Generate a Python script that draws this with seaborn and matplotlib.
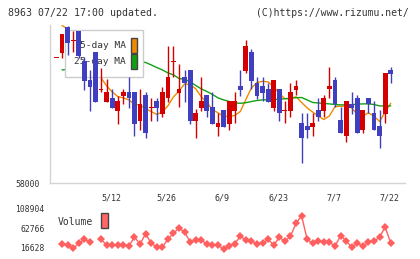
import numpy as np
import pandas as pd
import matplotlib
matplotlib.use('Agg')
import matplotlib.pyplot as plt
import seaborn as sns
from matplotlib.patches import Rectangle
from matplotlib.transforms import blended_transform_factory

# 8963 日足 (2025/04/23 - 2025/07/22)
code = '8963'
updated = '07/22 17:00'
holidays = ['2025-04-29', '2025-05-05', '2025-05-06', '2025-07-21']
dates = pd.bdate_range('2025-04-23', '2025-07-22', freq='C', holidays=holidays)

opens = [64250, 64530, 65830, 65100, 65620, 64120, 63170, 64550, 62690, 62080,
         62250, 61630, 62370, 62580, 62580, 61130, 62420, 61780, 62120, 61470,
         62250, 64050, 62530, 63300, 63670, 61130, 61780, 62420, 61800, 60830,
         61670, 60970, 61630, 62870, 63630, 64550, 63000, 62870, 62700, 61780,
         62700, 61640, 61630, 62670, 61000, 60870, 60830, 61670, 61630, 62700,
         63170, 61170, 60380, 61970, 62250, 60670, 62250, 61500, 60870, 61470,
         63670]
highs = [64250, 65470, 65870, 65620, 65620, 64330, 63670, 64550, 63780, 63220,
         62720, 62370, 62720, 63330, 62580, 62720, 62580, 62250, 62250, 62830,
         64870, 64870, 63950, 63670, 63670, 61700, 63330, 62420, 62580, 61500,
         61670, 62120, 62580, 63670, 65170, 64700, 63300, 63300, 63000, 63170,
         62700, 62120, 63000, 63170, 61500, 61500, 61500, 62250, 62420, 63830,
         63300, 61800, 62120, 62580, 62420, 61670, 62250, 62120, 61670, 63530,
         63830]
lows = [64250, 64250, 64420, 64580, 64270, 62670, 61630, 62080, 62580, 62080,
        61780, 60970, 61970, 61780, 60380, 60670, 60250, 61130, 61130, 61330,
        62080, 63300, 61830, 62080, 60970, 60250, 61630, 61330, 60970, 60380,
        60830, 60670, 61000, 62370, 63500, 62700, 62230, 62120, 62080, 61630,
        61130, 61000, 61330, 62420, 59000, 60250, 60380, 61130, 61330, 62250,
        61800, 60530, 60080, 61470, 60530, 60530, 61500, 60670, 59780, 61000,
        63000]
closes = [64250, 65470, 65000, 65150, 64380, 63120, 62830, 62080, 62730, 62580,
          61780, 62120, 62580, 62250, 60970, 61970, 60530, 61820, 61780, 62580,
          63330, 64100, 62720, 63000, 61130, 61500, 62120, 61630, 60970, 61000,
          60830, 62120, 62120, 62670, 64870, 63130, 62370, 62530, 62080, 63170,
          61500, 61680, 62580, 62870, 60250, 60670, 61000, 61330, 62250, 62870,
          61950, 60530, 62120, 61780, 60530, 61670, 61950, 60670, 60380, 63530,
          63470]
ma5 = [np.nan, 65890, 65720, 65370, 64920, 64590, 64140, 63670, 63270, 62870,
       62570, 62340, 62270, 62170, 61940, 61920, 61720, 61590, 61440, 61570,
       61870, 62320, 62620, 62970, 62940, 62720, 62320, 62040, 61690, 61520,
       61350, 61340, 61390, 61590, 62190, 62770, 63040, 63100, 63070, 62820,
       62490, 62230, 62230, 62330, 62040, 61770, 61560, 61360, 61190, 61370,
       61840, 61850, 61870, 61770, 61450, 61370, 61520, 61360, 61090, 61560,
       62000]
ma25 = [np.nan, 63670, 63690, 63770, 63840, 63920, 63990, 64040, 64090, 64120,
        64140, 64140, 64140, 64120, 64120, 64090, 64040, 63920, 63790, 63670,
        63520, 63420, 63240, 63200, 63080, 62890, 62720, 62590, 62440, 62270,
        62170, 62090, 62020, 62000, 62030, 62090, 62140, 62170, 62180, 62190,
        62200, 62230, 62250, 62280, 62290, 62170, 62040, 62020, 61990, 61970,
        61940, 61920, 61920, 61930, 61960, 61970, 61970, 61940, 61870, 61870,
        61870]
volume = [np.nan, 31000, 26900, 19100, 32900, 44000, 36000, np.nan, 44800, 27400,
          26900, 27700, 27400, 25500, 50300, 30400, 59500, 32900, 21900, 21900,
          44300, 60600, 75200, 63600, 36500, 42000, 42000, 30400, 28200, 28200,
          16628, 26000, 31800, 52300, 42000, 38500, 30400, 32900, 44300, 27400,
          49500, 38500, 52300, 88200, 108904, 44000, 32900, 39300, 36500, 35700,
          25500, 53700, 39800, 21900, 32900, 25500, 35700, 38500, 49500, 78000,
          33800]
date_labels = ['5/12', '5/26', '6/9', '6/23', '7/7', '7/22']
price_label = 58000

df = pd.DataFrame({'date': dates, 'open': opens, 'high': highs, 'low': lows,
                   'close': closes, 'ma5': ma5, 'ma25': ma25, 'volume': volume})
df['idx'] = np.arange(len(df))
df['md'] = [f'{d.month}/{d.day}' for d in df['date']]

UP = '#d40000'
DOWN = '#3f3fbf'
C_MA5 = '#f08a00'
C_MA25 = '#12a012'
C_VOL = '#ff5f5f'
GRID = '#d4d4d4'
TXT = '#333333'

sns.set_style('white')
plt.rcParams['font.family'] = ['DejaVu Sans Mono', 'DejaVu Sans']

W, H = 420, 259
fig = plt.figure(figsize=(W / 100, H / 100), dpi=100)


def box(l, t, r, b):
    return [l / W, 1 - b / H, (r - l) / W, (b - t) / H]


def fx(x):
    return x / W


def fy(y):
    return 1 - y / H


xlim = (-1.167, 62.62)

# --- price chart ---
ax = fig.add_axes(box(50, 25, 405.3, 183.3))
ax.set_xlim(*xlim)
ax.set_ylim(58000, 65915)
for s in ['top', 'right']:
    ax.spines[s].set_visible(False)
for s in ['left', 'bottom']:
    ax.spines[s].set_color(GRID)
    ax.spines[s].set_linewidth(1.0)
ax.set_xticks(np.linspace(xlim[0], xlim[1], 12))
ax.set_xticklabels([])
ax.tick_params(axis='x', direction='inout', length=6.2, width=1.0, color=GRID)
ax.set_yticks([price_label])
ax.set_yticklabels([str(price_label)], fontsize=5.9, color=TXT)
ax.tick_params(axis='y', direction='out', length=3.6, width=1.0, color=GRID, pad=3.5)

# 移動平均線
sns.lineplot(data=df, x='idx', y='ma5', ax=ax, color=C_MA5, lw=1.0, zorder=1, legend=False)
sns.lineplot(data=df, x='idx', y='ma25', ax=ax, color=C_MA25, lw=1.0, zorder=1, legend=False)
ax.set_xlabel('')
ax.set_ylabel('')

# 凡例ボックス (ローソク足の下)
ax.add_patch(Rectangle((fx(65), fy(77.3)), fx(78.3), (77.3 - 30) / H, transform=fig.transFigure,
                       facecolor='white', edgecolor='#cccccc', lw=1.0, zorder=2, clip_on=False))
for label, col, yc in [('5-day MA', C_MA5, 45.0), ('25-day MA', C_MA25, 61.7)]:
    ax.text(fx(125.5), fy(yc), label, transform=fig.transFigure, ha='right', va='center',
            fontsize=6.8, color=TXT, zorder=2.1)
    ax.add_patch(Rectangle((fx(131), fy(yc + 7.5)), fx(6.3), 15 / H, transform=fig.transFigure,
                           facecolor=col, edgecolor='#444444', lw=1.0, zorder=2.1, clip_on=False))

# ローソク足
up = df['close'] >= df['open']
colors = np.where(up, UP, DOWN)
body_lo = np.minimum(df['open'], df['close'])
body_h = np.maximum((df['close'] - df['open']).abs(), 45)
ax.vlines(df['idx'], df['low'], df['high'], colors=colors, lw=1.0, zorder=3)
ax.bar(df['idx'], body_h, bottom=body_lo, width=0.86, color=colors, linewidth=0, zorder=4)

# 日付ラベル
tr = blended_transform_factory(ax.transData, fig.transFigure)
for lab in date_labels:
    i = int(df.loc[df['md'] == lab, 'idx'].iloc[0])
    ax.text(i - 0.2, fy(198.3), lab, transform=tr, ha='center', va='center',
            fontsize=6.0, color=TXT, clip_on=False)

# --- volume ---
axv = fig.add_axes(box(50, 215.8, 405.3, 249.2))
axv.set_xlim(*xlim)
vmin, vmax = np.nanmin(volume), np.nanmax(volume)
axv.set_ylim(vmin, vmax)
axv.axis('off')
axv.plot(df['idx'], df['volume'], color=C_VOL, lw=1.0, marker='D', ms=3.6,
         markeredgewidth=0, clip_on=False)

for val, yc in [(vmax, 209.0), ((vmax + vmin) / 2, 229.3), (vmin, 248.3)]:
    fig.text(fx(44.5), fy(yc), f'{int(round(val))}', ha='right', va='center',
             fontsize=5.8, color=TXT)
fig.text(fx(58), fy(221.7), 'Volume', ha='left', va='center', fontsize=7.0, color=TXT)
fig.patches.append(Rectangle((fx(101), fy(228.3)), fx(6.7), 15 / H, transform=fig.transFigure,
                             facecolor='#ff6666', edgecolor='#444444', lw=1.0, figure=fig))

# ヘッダー
fig.text(fx(8), fy(12.7), f'{code} {updated} updated.', ha='left', va='center',
         fontsize=7.1, color=TXT)
fig.text(fx(409), fy(12.7), '(C)https://www.rizumu.net/', ha='right', va='center',
         fontsize=7.0, color=TXT)

fig.savefig('out.png', dpi=100)
